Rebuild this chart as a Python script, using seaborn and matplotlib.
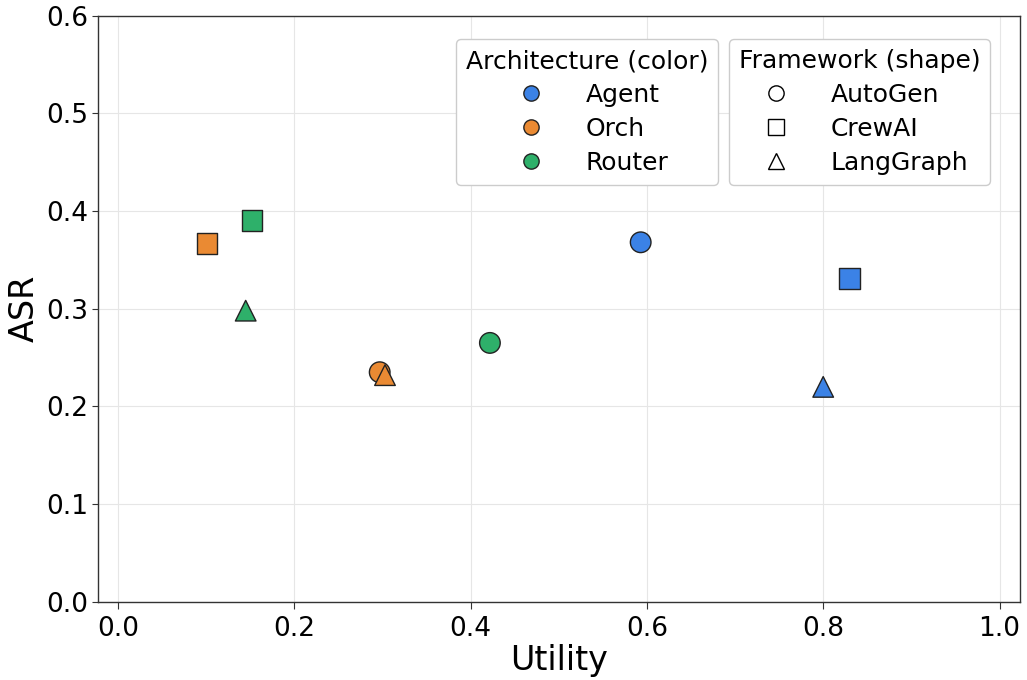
import pandas as pd
import matplotlib.pyplot as plt
import seaborn as sns
from matplotlib.lines import Line2D

# data
architecture = ["Agent", "Agent", "Agent", "Orch", "Orch", "Orch", "Router", "Router", "Router"]
framework = ["AutoGen", "CrewAI", "LangGraph"] * 3
utility = [0.593, 0.830, 0.800, 0.297, 0.101, 0.303, 0.422, 0.152, 0.145]
asr = [0.368, 0.331, 0.220, 0.235, 0.367, 0.232, 0.265, 0.390, 0.298]

arch_order = ["Agent", "Orch", "Router"]
fw_order = ["AutoGen", "CrewAI", "LangGraph"]
arch_colors = {"Agent": "#3b82e6", "Orch": "#ea8a33", "Router": "#2eb06a"}
fw_markers = {"AutoGen": "o", "CrewAI": "s", "LangGraph": "^"}

df = pd.DataFrame({"Architecture": architecture, "Framework": framework,
                   "Utility": utility, "ASR": asr})

sns.set_style("whitegrid")
plt.rcParams["font.family"] = ["DejaVu Sans"]
plt.rcParams["text.color"] = "black"
plt.rcParams["axes.labelcolor"] = "black"
plt.rcParams["xtick.color"] = "black"
plt.rcParams["ytick.color"] = "black"

fig, ax = plt.subplots(figsize=(10.27, 6.8), dpi=100)
sns.scatterplot(data=df, x="Utility", y="ASR", hue="Architecture", style="Framework",
                hue_order=arch_order, style_order=fw_order,
                palette=arch_colors, markers=fw_markers, s=220,
                edgecolor="#222222", linewidth=1.0, legend=False, ax=ax, zorder=3)

ax.set_xlim(-0.023, 1.023)
ax.set_ylim(0, 0.6)
ax.set_xlabel("Utility", fontsize=24, labelpad=2)
ax.set_ylabel("ASR", fontsize=24)
ax.tick_params(axis="y", labelsize=19, length=4, pad=3, color="#333333", left=True)
ax.tick_params(axis="x", labelsize=19, length=5, pad=5, color="#333333", bottom=True)
ax.grid(True, color="#e6e6e6", linewidth=0.8)
for side in ["left", "right", "top", "bottom"]:
    ax.spines[side].set_color("#333333")
    ax.spines[side].set_linewidth(1.0)

arch_handles = [Line2D([], [], marker="o", linestyle="", markersize=11,
                       markerfacecolor=arch_colors[a], markeredgecolor="#222222", label=a)
                for a in arch_order]
fw_handles = [Line2D([], [], marker=fw_markers[f], linestyle="", markersize=11,
                     markerfacecolor="white", markeredgecolor="black", label=f)
              for f in fw_order]

leg1 = ax.legend(handles=arch_handles, title="Architecture (color)", loc="upper right",
                 bbox_to_anchor=(0.673, 0.96), borderaxespad=0, fontsize=18,
                 title_fontsize=18, frameon=True, framealpha=1.0, labelspacing=0.4,
                 handletextpad=1.2)
ax.add_artist(leg1)
ax.legend(handles=fw_handles, title="Framework (shape)", loc="upper right",
          bbox_to_anchor=(0.968, 0.96), borderaxespad=0, fontsize=18,
          title_fontsize=18, frameon=True, framealpha=1.0, labelspacing=0.4,
          handletextpad=1.2)

plt.subplots_adjust(left=0.095, right=0.993, top=0.977, bottom=0.115)
plt.savefig("out.png", dpi=100)
